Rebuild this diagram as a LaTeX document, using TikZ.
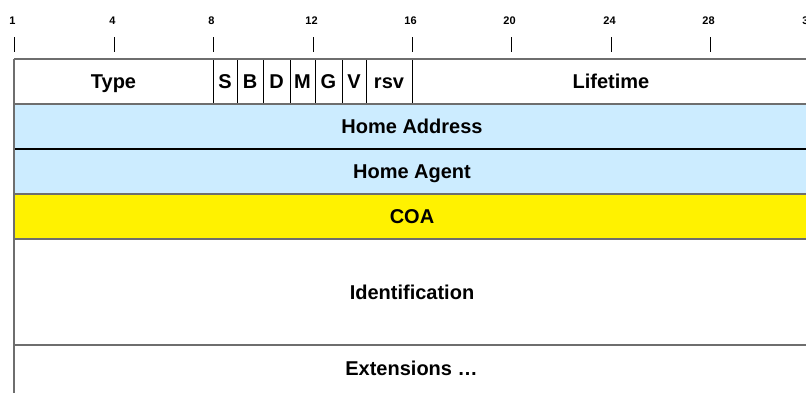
\documentclass[tikz,border=0pt]{standalone}
\usepackage{fontspec}
\setmainfont{Liberation Sans}
\definecolor{lblue}{HTML}{CCECFF}
\definecolor{lgray}{HTML}{6E6E6E}
\begin{document}
\begin{tikzpicture}[x=1bp,y=-1bp,
  field/.style={draw=black, line width=0.8bp, inner sep=0pt, outer sep=0pt,
    font=\bfseries\fontsize{20bp}{24bp}\selectfont, text height=14.3bp, text depth=0pt,
    anchor=north west, minimum height=45bp},
  rowbox/.style={field, draw=lgray, line width=1.6bp, minimum width=796bp},
  rowline/.style={draw=lgray, line width=1.6bp},
  ticklab/.style={font=\bfseries\fontsize{11bp}{13bp}\selectfont, text height=8bp, text depth=0pt, inner sep=0pt},
  tickmark/.style={draw=black, line width=1bp}]
\useasboundingbox (0,0) rectangle (806,392);
\clip (0,0) rectangle (806,392);
% ticks
\foreach \n/\x in {1/14, 4/114, 8/213, 12/313, 16/412, 20/511, 24/611, 28/710, 32/810}{
  \coordinate (tt\n) at (\x,37);
  \coordinate (tb\n) at (\x,52);
  \draw[tickmark] (tt\n) -- (tb\n);
  \node[ticklab] (tl\n) at (\x-1.5,20) {\n};
}
% first row
\node[field, minimum width=199bp] (type) at (14,59) {Type};
\node[field, minimum width=24bp] (S) at (213,59) {S};
\node[field, minimum width=26bp] (B) at (237,59) {B};
\node[field, minimum width=27bp] (D) at (263,59) {D};
\node[field, minimum width=25bp] (M) at (290,59) {M};
\node[field, minimum width=27bp] (G) at (315,59) {G};
\node[field, minimum width=24bp] (V) at (342,59) {V};
\node[field, minimum width=46bp] (rsv) at (366,59) {rsv};
\node[field, minimum width=398bp] (life) at (412,59) {Lifetime};
\draw[rowline] (type.north west) -- (life.north east);
% other rows
\node[rowbox, fill=lblue] (haddr) at (14,104) {Home Address};
\node[rowbox, fill=lblue] (hagent) at (14,149) {Home Agent};
\node[rowbox, fill=yellow] (coa) at (14,194) {COA};
\node[rowbox, minimum height=106bp] (ident) at (14,239) {Identification};
\node[rowbox, minimum height=70bp, text height=0pt] (ext) at (14,345) {};
\node[font=\bfseries\fontsize{20bp}{24bp}\selectfont, text height=14.3bp, text depth=0pt, inner sep=0pt] (extlab) at (411.5,368) {Extensions \dots};
\draw[draw=black, line width=1.6bp] (haddr.south west) -- (haddr.south east);
\draw[rowline] (type.north west) -- (ext.south west);
\end{tikzpicture}
\end{document}
